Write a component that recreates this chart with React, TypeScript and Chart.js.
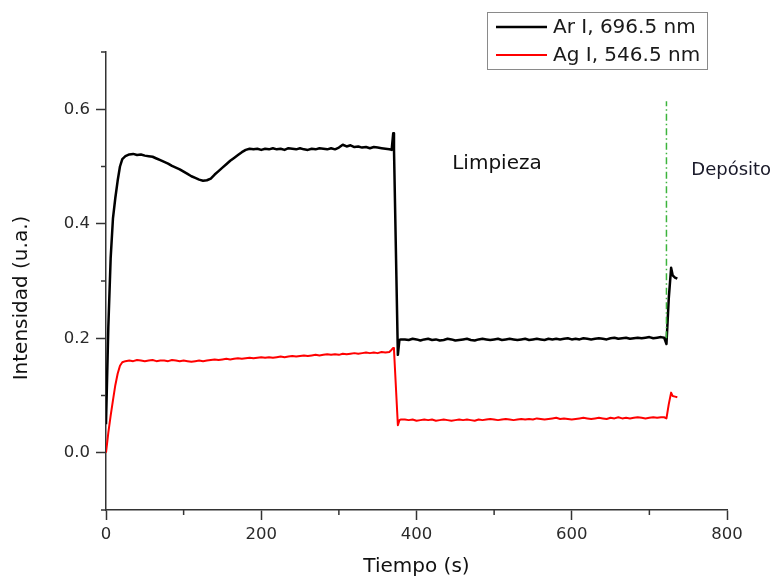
import { useEffect, useRef } from "react";
import { Chart, registerables } from "chart.js";

Chart.register(...registerables);

// ---- data ----
const timeS = [
  0, 3, 6, 9, 12, 15, 18, 21,
  25, 30, 35, 40, 45, 50, 55, 60, 65, 70,
  75, 80, 85, 90, 95, 100, 105, 110, 115, 120,
  125, 130, 135, 140, 145, 150, 155, 160, 165, 170,
  175, 180, 185, 190, 195, 200, 205, 210, 215, 220,
  225, 230, 235, 240, 245, 250, 255, 260, 265, 270,
  275, 280, 285, 290, 295, 300, 305, 310, 315, 320,
  325, 330, 335, 340, 345, 350, 355, 360, 365,
  368, 370, 371, 376, 378, 380,
  385, 390, 395, 400, 405, 410, 415, 420, 425, 430,
  435, 440, 445, 450, 455, 460, 465, 470, 475, 480,
  485, 490, 495, 500, 505, 510, 515, 520, 525, 530,
  535, 540, 545, 550, 555, 560, 565, 570, 575, 580,
  585, 590, 595, 600, 605, 610, 615, 620, 625, 630,
  635, 640, 645, 650, 655, 660, 665, 670, 675, 680,
  685, 690, 695, 700, 705, 710, 715,
  719, 722, 725, 728, 730, 733, 736,
];

const arIntensity = [
  0.05, 0.22, 0.34, 0.41, 0.445, 0.475, 0.5, 0.513,
  0.518, 0.521, 0.522, 0.52, 0.521, 0.519, 0.518, 0.517, 0.514, 0.511,
  0.508, 0.505, 0.501, 0.498, 0.495, 0.491, 0.487, 0.483, 0.48, 0.477,
  0.475, 0.476, 0.479, 0.486, 0.492, 0.498, 0.504, 0.51, 0.515, 0.52,
  0.525, 0.529, 0.531, 0.53, 0.531, 0.529, 0.531, 0.53, 0.532, 0.53,
  0.531, 0.529, 0.532, 0.531, 0.53, 0.532, 0.53, 0.529, 0.531, 0.53,
  0.532, 0.531, 0.53, 0.532, 0.53, 0.533, 0.538, 0.535, 0.537, 0.534,
  0.535, 0.533, 0.534, 0.532, 0.534, 0.533, 0.532, 0.531, 0.53,
  0.529, 0.558, 0.53, 0.171, 0.197, 0.198,
  0.198, 0.197, 0.199, 0.198, 0.196, 0.198, 0.199, 0.197, 0.198, 0.196,
  0.197, 0.199, 0.198, 0.196, 0.197, 0.198, 0.199, 0.197, 0.196, 0.198,
  0.199, 0.198, 0.197, 0.198, 0.199, 0.197, 0.198, 0.199, 0.198, 0.197,
  0.198, 0.199, 0.197, 0.198, 0.199, 0.198, 0.197, 0.199, 0.198, 0.199,
  0.198, 0.199, 0.2, 0.198, 0.199, 0.198, 0.2, 0.199, 0.198, 0.199,
  0.2, 0.199, 0.198, 0.2, 0.201, 0.199, 0.2, 0.201, 0.199, 0.2,
  0.201, 0.2, 0.201, 0.202, 0.2, 0.201, 0.202,
  0.201, 0.19, 0.27, 0.323, 0.31, 0.306, 0.304,
];

const agIntensity = [
  0.0, 0.035, 0.065, 0.092, 0.118, 0.138, 0.152, 0.158,
  0.16, 0.161, 0.16, 0.162, 0.161, 0.16, 0.161, 0.162, 0.16, 0.161,
  0.161, 0.16, 0.162, 0.161, 0.16, 0.161, 0.16, 0.159, 0.16, 0.161,
  0.16, 0.161, 0.162, 0.163, 0.162, 0.163, 0.164, 0.163, 0.164, 0.165,
  0.164, 0.165, 0.166, 0.165, 0.166, 0.167, 0.166, 0.167, 0.166, 0.167,
  0.168, 0.167, 0.168, 0.169, 0.168, 0.169, 0.17, 0.169, 0.17, 0.171,
  0.17, 0.171, 0.172, 0.171, 0.172, 0.171, 0.173, 0.172, 0.173, 0.174,
  0.173, 0.174, 0.175, 0.174, 0.175, 0.174, 0.176, 0.175, 0.176,
  0.18, 0.183, 0.18, 0.048, 0.057, 0.058,
  0.058, 0.057, 0.058, 0.056, 0.057, 0.058, 0.057, 0.058, 0.056, 0.057,
  0.058, 0.057, 0.056, 0.057, 0.058, 0.057, 0.058, 0.057, 0.056, 0.058,
  0.057, 0.058, 0.059, 0.058, 0.057, 0.058, 0.059, 0.058, 0.057, 0.058,
  0.059, 0.058, 0.059, 0.058, 0.06, 0.059, 0.058, 0.059, 0.06, 0.061,
  0.059, 0.06, 0.059, 0.058, 0.059, 0.06, 0.061, 0.06, 0.059, 0.06,
  0.061, 0.06, 0.059, 0.061, 0.06, 0.062, 0.06, 0.061, 0.06, 0.061,
  0.062, 0.061, 0.06, 0.061, 0.062, 0.061, 0.062,
  0.062, 0.06, 0.085, 0.105, 0.099, 0.098, 0.097,
];

const seriesNames = ["Ar I, 696.5 nm", "Ag I, 546.5 nm"];
const seriesColors = ["#000000", "#ff0000"];

const xTickValues = [0, 200, 400, 600, 800];
const xMinorTicks = [100, 300, 500, 700];
const yTickValues = [0, 0.2, 0.4, 0.6];
const yMinorTicks = [-0.1, 0.1, 0.3, 0.5, 0.7];

const markerTime = [722, 722];
const markerLevel = [0.2, 0.614];

const noteTexts = ["Limpieza", "Depósito"];
const noteTime = [446, 754];
const noteLevel = [0.495, 0.486];
const noteSizes = [20, 18];

const FONT = '"DejaVu Sans", "Liberation Sans", sans-serif';

const decorPlugin = {
  id: "decor",
  afterDraw(chart: any) {
    const ctx = chart.ctx as CanvasRenderingContext2D;
    const xs = chart.scales.x;
    const ys = chart.scales.y;
    const ca = chart.chartArea;
    ctx.save();
    // minor ticks
    ctx.strokeStyle = "#333";
    ctx.lineWidth = 1.5;
    yMinorTicks.forEach((v) => {
      const py = ys.getPixelForValue(v);
      ctx.beginPath();
      ctx.moveTo(ca.left - 5, py);
      ctx.lineTo(ca.left, py);
      ctx.stroke();
    });
    xMinorTicks.forEach((v) => {
      const px = xs.getPixelForValue(v);
      ctx.beginPath();
      ctx.moveTo(px, ca.bottom);
      ctx.lineTo(px, ca.bottom + 5);
      ctx.stroke();
    });

    // notes
    ctx.textAlign = "left";
    ctx.textBaseline = "alphabetic";
    noteTexts.forEach((t, i) => {
      ctx.font = `${noteSizes[i]}px ${FONT}`;
      ctx.fillStyle = i === 0 ? "#111" : "#1a1a2a";
      ctx.fillText(t, xs.getPixelForValue(noteTime[i]), ys.getPixelForValue(noteLevel[i]));
    });

    // y title
    ctx.save();
    ctx.translate(22, (ca.top + ca.bottom) / 2 + 17);
    ctx.rotate(-Math.PI / 2);
    ctx.textAlign = "center";
    ctx.textBaseline = "middle";
    ctx.font = `20px ${FONT}`;
    ctx.fillStyle = "#111";
    ctx.fillText("Intensidad (u.a.)", 0, 0);
    ctx.restore();

    // legend box
    const bw = 220;
    const bh = 57;
    const bx = ca.right - 20 - bw;
    const by = 12;
    ctx.fillStyle = "#fff";
    ctx.fillRect(bx, by, bw, bh);
    ctx.strokeStyle = "#8a8a8a";
    ctx.lineWidth = 1;
    ctx.strokeRect(bx + 0.5, by + 0.5, bw, bh);
    ctx.font = `20px ${FONT}`;
    ctx.textBaseline = "middle";
    ctx.textAlign = "left";
    seriesNames.forEach((name, i) => {
      const ly = by + 15 + i * 28;
      ctx.strokeStyle = seriesColors[i];
      ctx.lineWidth = i === 0 ? 2.5 : 2;
      ctx.beginPath();
      ctx.moveTo(bx + 9, ly);
      ctx.lineTo(bx + 60, ly);
      ctx.stroke();
      ctx.fillStyle = "#1a1a1a";
      ctx.fillText(name, bx + 66, ly + 1);
    });
    ctx.restore();
  },
};

export default function App() {
  const ref = useRef<HTMLCanvasElement>(null);

  useEffect(() => {
    const canvas = ref.current;
    if (!canvas) return;
    const arData = timeS.map((t, i) => ({ x: t, y: arIntensity[i] }));
    const agData = timeS.map((t, i) => ({ x: t, y: agIntensity[i] }));
    const markerData = markerTime.map((t, i) => ({ x: t, y: markerLevel[i] }));

    const tickFont = { family: FONT, size: 16.5 };
    const chart = new Chart(canvas, {
      type: "line",
      data: {
        datasets: [
          {
            label: "marker",
            data: markerData,
            borderColor: "#3cb43c",
            borderWidth: 1.5,
            borderDash: [7, 3, 1.5, 3],
            pointRadius: 0,
          },
          {
            label: seriesNames[0],
            data: arData,
            borderColor: seriesColors[0],
            borderWidth: 2.5,
            pointRadius: 0,
            borderJoinStyle: "round",
          },
          {
            label: seriesNames[1],
            data: agData,
            borderColor: seriesColors[1],
            borderWidth: 2,
            pointRadius: 0,
            borderJoinStyle: "round",
          },
        ],
      },
      options: {
        animation: false,
        responsive: false,
        maintainAspectRatio: false,
        layout: { padding: { top: 52, right: 46, left: 0, bottom: 0 } },
        plugins: { legend: { display: false }, tooltip: { enabled: false } },
        elements: { point: { radius: 0 }, line: { tension: 0 } },
        scales: {
          x: {
            type: "linear",
            min: 0,
            max: 800,
            afterBuildTicks: (s: any) => {
              s.ticks = xTickValues.map((v) => ({ value: v }));
            },
            afterFit: (s: any) => {
              s.height = 73;
            },
            grid: {
              display: true,
              drawOnChartArea: false,
              drawTicks: true,
              tickLength: 10,
              tickColor: "#333",
              tickWidth: 1.5,
            },
            border: { display: true, color: "#333", width: 1.5 },
            ticks: {
              font: tickFont,
              color: "#2a2a2a",
              padding: 5,
              maxRotation: 0,
              autoSkip: false,
              callback: (v: any) => String(v),
            },
            title: {
              display: true,
              text: "Tiempo (s)",
              font: { family: FONT, size: 20 },
              color: "#111",
              padding: { top: 0, bottom: 4 },
            },
          },
          y: {
            type: "linear",
            min: -0.1,
            max: 0.7,
            afterBuildTicks: (s: any) => {
              s.ticks = yTickValues.map((v) => ({ value: v }));
            },
            afterFit: (s: any) => {
              s.width = 106;
            },
            grid: {
              display: true,
              drawOnChartArea: false,
              drawTicks: true,
              tickLength: 10,
              tickColor: "#333",
              tickWidth: 1.5,
            },
            border: { display: true, color: "#333", width: 1.5 },
            ticks: {
              font: tickFont,
              color: "#2a2a2a",
              padding: 6,
              autoSkip: false,
              callback: (v: any) => Number(v).toFixed(1),
            },
          },
        },
      },
      plugins: [decorPlugin],
    } as any);
    return () => chart.destroy();
  }, []);

  return (
    <div style={{ position: "absolute", left: 0, top: 0, width: 773, height: 583, background: "#fff" }}>
      <canvas ref={ref} width={773} height={583} style={{ display: "block" }} />
    </div>
  );
}
